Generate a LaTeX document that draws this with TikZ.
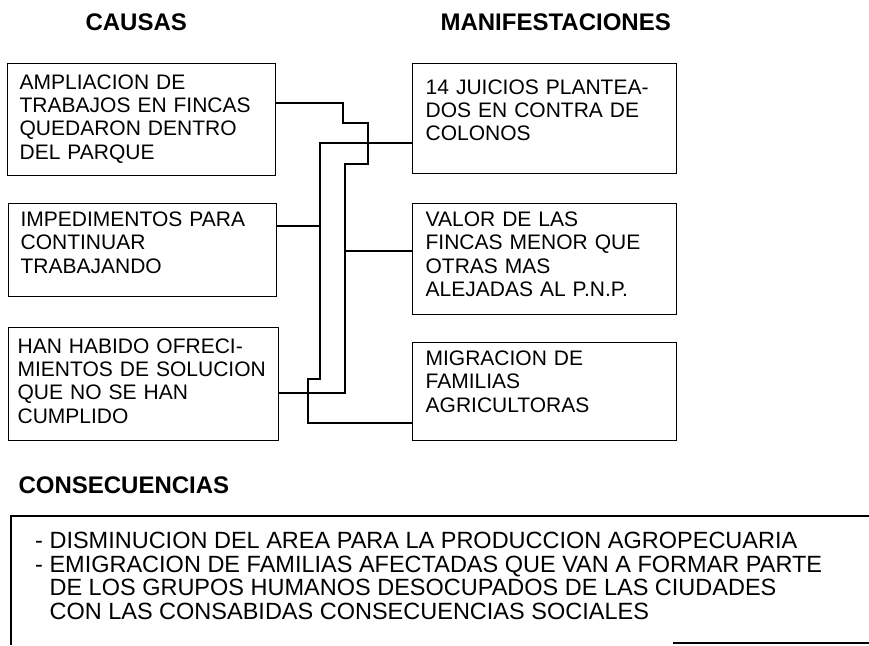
\documentclass[tikz,border=0pt]{standalone}
\usepackage{fontspec}
\setmainfont{Liberation Sans}
\hyphenpenalty=10000

\begin{document}
\begin{tikzpicture}[x=1pt,y=-1pt,
  caja/.style={rectangle, draw, line width=1.3pt, anchor=north west, align=left,
    inner xsep=12pt, inner ysep=6pt, text height=17pt,
    font=\fontsize{21}{23.3}\selectfont},
  titulo/.style={font=\fontsize{24}{28}\selectfont\bfseries},
  linea/.style={line width=1.3pt}]
\useasboundingbox (0,0) rectangle (869,645);

% titulos
\node[titulo, anchor=west] (causas) at (82,22) {CAUSAS};
\node[titulo, anchor=west] (manif) at (437,22) {MANIFESTACIONES};

% causas
\node[caja, text width=244pt, text height=19.5pt, text depth=80.5pt] (c1) at (7,63)
  {AMPLIACION DE\\TRABAJOS EN FINCAS\\QUEDARON DENTRO\\DEL PARQUE};
\node[caja, text width=244pt, text depth=64pt] (c2) at (8,203)
  {IMPEDIMENTOS PARA\\CONTINUAR\\TRABAJANDO};
\node[caja, inner xsep=9pt, text width=252pt, text height=19.5pt, text depth=81.5pt] (c3) at (8,327)
  {HAN HABIDO OFRECI-\\MIENTOS DE SOLUCION\\QUE NO SE HAN\\CUMPLIDO};

% manifestaciones
\node[caja, inner xsep=13pt, text width=238pt, text height=24.5pt, text depth=73.5pt] (m1) at (412,63)
  {14 JUICIOS PLANTEA-\\DOS EN CONTRA DE\\COLONOS};
\node[caja, inner xsep=13pt, text width=238pt, text depth=82pt] (m2) at (412,203)
  {VALOR DE LAS\\FINCAS MENOR QUE\\OTRAS MAS\\ALEJADAS AL P.N.P.};
\node[caja, inner xsep=13pt, text width=238pt, text depth=69pt] (m3) at (412,342)
  {MIGRACION DE\\FAMILIAS\\AGRICULTORAS};

% uniones
\coordinate (a1) at (343,123);
\coordinate (a2) at (368,164);
\coordinate (a3) at (345,393);
\coordinate (a4) at (345,251);
\coordinate (b1) at (320,143);
\coordinate (b2) at (308,379);
\coordinate (b3) at (320,226);
\coordinate (b4) at (308,423);

\draw[linea] (c1.north east) ++(0,40) -| (a1) -| (a2) -| (a3) -- (c3.east |- a3);
\draw[linea] (a4) -- (m2.west |- a4);
\draw[linea] (m1.west |- b1) -- (b1) |- (b2) -- (b4) -- (m3.west |- b4);
\draw[linea] (c2.east |- b3) -- (b3);

% consecuencias
\node[titulo, anchor=west] (conslbl) at (15,485) {CONSECUENCIAS};
\coordinate (mtr) at (869,516);
\coordinate (mtl) at (11,516);
\coordinate (mbl) at (11,645);
\coordinate (mbr) at (869,643);
\draw[linea] (mtr) -- (mtl) -- (mbl);
\draw[linea] (mbr) -- ++(-196,0);
\node[anchor=north west, align=left, inner sep=0pt,
  font=\fontsize{23.5}{23.5}\selectfont] (cons) at (35,532)
  {- DISMINUCION DEL AREA PARA LA PRODUCCION AGROPECUARIA\\
   - EMIGRACION DE FAMILIAS AFECTADAS QUE VAN A FORMAR PARTE\\
   \phantom{- }DE LOS GRUPOS HUMANOS DESOCUPADOS DE LAS CIUDADES\\
   \phantom{- }CON LAS CONSABIDAS CONSECUENCIAS SOCIALES};
\end{tikzpicture}
\end{document}
